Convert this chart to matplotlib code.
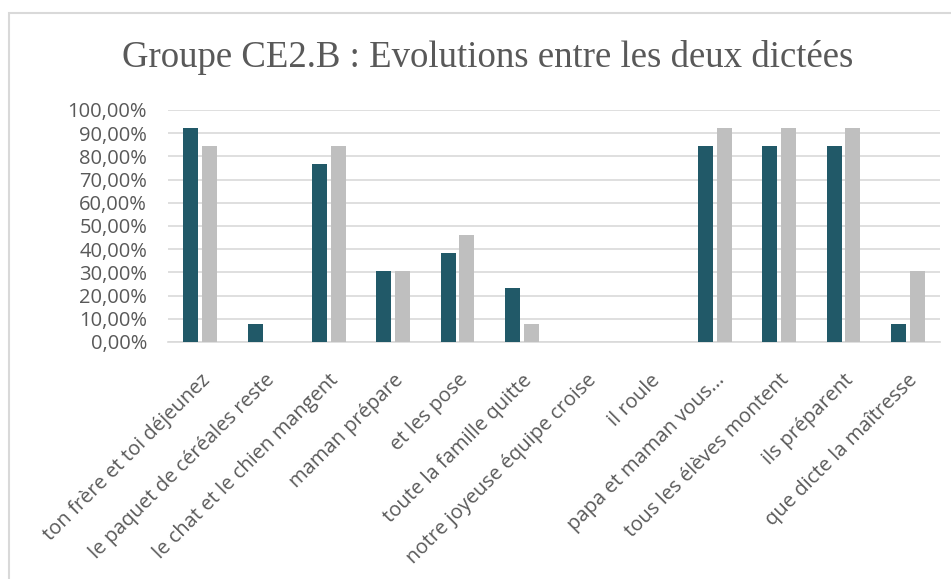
import numpy as np
import matplotlib.pyplot as plt
from matplotlib.patches import Rectangle
from matplotlib.ticker import FuncFormatter

categories = ['ton frère et toi déjeunez', 'le paquet de céréales reste',
              'le chat et le chien mangent', 'maman prépare', 'et les pose',
              'toute la famille quitte', 'notre joyeuse équipe croise',
              'il roule', 'papa et maman vous...', 'tous les élèves montent',
              'ils préparent', 'que dicte la maîtresse']
dictee1 = [92.31, 7.69, 76.92, 30.77, 38.46, 23.08, 0, 0, 84.62, 84.62, 84.62, 7.69]
dictee2 = [84.62, 0, 84.62, 30.77, 46.15, 7.69, 0, 0, 92.31, 92.31, 92.31, 30.77]

plt.rcParams['font.family'] = ['Open Sans', 'DejaVu Sans']

fig = plt.figure(figsize=(9.51, 5.79), dpi=100)
W, H = 951, 579
ax = fig.add_axes([168 / W, 1 - 342 / H, (940 - 168) / W, (342 - 110) / H])

x = np.arange(len(categories))
w = 0.23
ax.bar(x - 0.145, dictee1, w, color='#215968', zorder=3)
ax.bar(x + 0.145, dictee2, w, color='#BFBFBF', zorder=3)

ax.set_xlim(-0.5, len(categories) - 0.5)
ax.set_ylim(0, 100)
ax.set_yticks(np.arange(0, 101, 10))
ax.yaxis.set_major_formatter(FuncFormatter(lambda v, p: '{:.2f}%'.format(v).replace('.', ',')))
ax.grid(axis='y', color='#D9D9D9', linewidth=1.2, zorder=0)
for s in ['top', 'right', 'left']:
    ax.spines[s].set_visible(False)
ax.spines['bottom'].set_color('#D9D9D9')
ax.spines['bottom'].set_linewidth(1.2)
ax.tick_params(axis='y', length=0, labelsize=14.5, labelcolor='#595959', pad=15)
ax.tick_params(axis='x', length=0, labelsize=14.5, labelcolor='#595959', pad=17)
ax.set_xticks(x)
ax.set_xticklabels(categories, rotation=45, ha='right', va='top', rotation_mode='anchor')
for t in ax.get_xticklabels():
    t.set_y(-0.02)

fig.text(488 / W, 1 - 67 / H, 'Groupe CE2.B : Evolutions entre les deux dictées',
         family='Liberation Serif', fontsize=26.5, color='#595959', ha='center', va='baseline')

fig.patches.append(Rectangle((9 / W, -0.1), 1.0, 1.1 - 13 / H, transform=fig.transFigure,
                             fill=False, edgecolor='#D9D9D9', linewidth=1.5))

fig.savefig('out.png', dpi=100)
